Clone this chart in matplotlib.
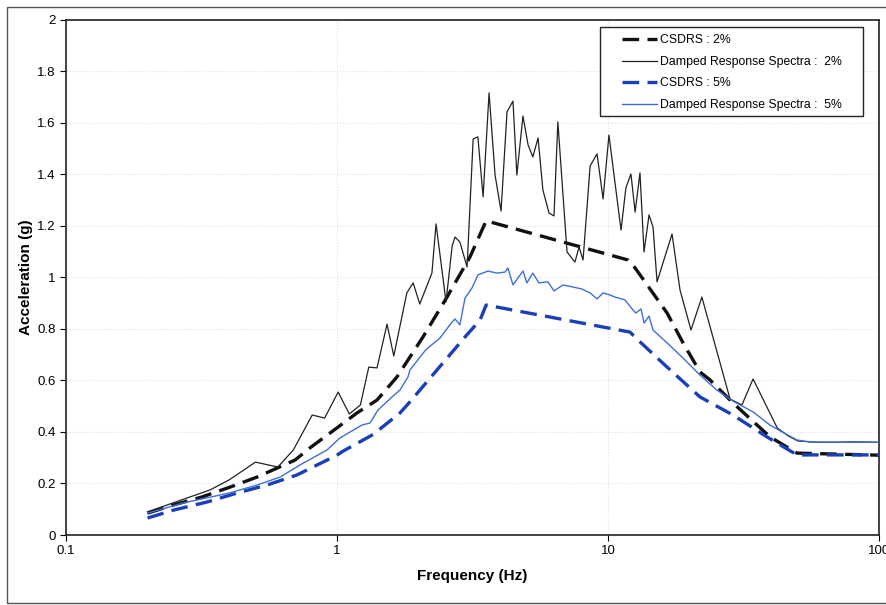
import matplotlib
matplotlib.use('Agg')
import matplotlib.pyplot as plt
from matplotlib.patches import Rectangle

plt.rcParams['font.family'] = ['Liberation Sans', 'DejaVu Sans']

# CSDRS 2% (design spectrum)
csdrs2_freq = [0.2, 0.25, 0.318, 0.403, 0.507, 0.70, 0.794, 1.0, 1.185, 1.405, 1.665, 1.858,
               2.076, 2.547, 3.096, 3.55, 11.85, 12.59, 16.52, 18.92, 21.85, 23.8, 28.9, 39.6, 49.8, 100]
csdrs2_acc = [0.085, 0.117, 0.148, 0.186, 0.225, 0.291, 0.338, 0.416, 0.474, 0.524, 0.614, 0.691,
              0.769, 0.924, 1.08, 1.22, 1.068, 1.037, 0.862, 0.746, 0.633, 0.602, 0.513, 0.381, 0.318, 0.31]

# CSDRS 5%
csdrs5_freq = [0.2, 0.25, 0.331, 0.428, 0.552, 0.711, 1.0, 1.05, 1.358, 1.708, 1.858, 2.967,
               3.373, 3.55, 12.05, 12.79, 16.52, 21.85, 28.9, 38.6, 49.8, 100]
csdrs5_acc = [0.066, 0.097, 0.128, 0.163, 0.194, 0.233, 0.31, 0.325, 0.39, 0.474, 0.517, 0.769,
              0.835, 0.893, 0.788, 0.761, 0.652, 0.536, 0.466, 0.381, 0.311, 0.311]

# Damped response spectra 2%
drs2_freq = [0.2, 0.34, 0.40, 0.50, 0.605, 0.69, 0.81, 0.90, 1.01, 1.11, 1.22, 1.31, 1.405, 1.53,
             1.62, 1.81, 1.91, 2.02, 2.24, 2.32, 2.525, 2.66, 2.725, 2.84, 3.02, 3.18, 3.31, 3.46,
             3.64, 3.83, 4.03, 4.24, 4.46, 4.61, 4.855, 5.07, 5.28, 5.52, 5.75, 6.06, 6.32, 6.53,
             7.06, 7.55, 7.82, 8.09, 8.59, 9.11, 9.59, 10.08, 11.17, 11.64, 12.15, 12.59, 13.12,
             13.58, 14.17, 14.66, 15.17, 17.23, 18.44, 20.24, 22.2, 28.2, 31.2, 34.3, 42.1, 46.2,
             50.2, 60, 70, 80, 100]
drs2_acc = [0.09, 0.175, 0.214, 0.283, 0.264, 0.33, 0.466, 0.454, 0.555, 0.47, 0.505, 0.652, 0.649,
            0.819, 0.695, 0.94, 0.979, 0.897, 1.017, 1.208, 0.905, 1.122, 1.157, 1.138, 1.041, 1.538,
            1.546, 1.313, 1.717, 1.398, 1.258, 1.643, 1.685, 1.398, 1.627, 1.515, 1.468, 1.542, 1.34,
            1.25, 1.239, 1.604, 1.099, 1.06, 1.118, 1.068, 1.433, 1.48, 1.305, 1.553, 1.184, 1.348,
            1.402, 1.254, 1.406, 1.099, 1.243, 1.196, 0.983, 1.169, 0.951, 0.796, 0.924, 0.528, 0.505,
            0.606, 0.416, 0.385, 0.365, 0.36, 0.36, 0.362, 0.36]

# Damped response spectra 5%
drs5_freq = [0.2, 0.27, 0.40, 0.507, 0.617, 0.73, 0.918, 1.026, 1.236, 1.324, 1.416, 1.596, 1.708,
             1.828, 1.858, 2.13, 2.4, 2.61, 2.725, 2.84, 2.967, 3.148, 3.313, 3.607, 3.893, 4.17,
             4.27, 4.46, 4.855, 5.02, 5.28, 5.56, 6.0, 6.32, 6.82, 7.43, 8.02, 8.59, 9.11, 9.59,
             10.17, 10.6, 11.55, 12.36, 12.68, 13.24, 13.58, 14.17, 14.66, 16.52, 18.92, 21.85,
             25.2, 28.9, 34.3, 39.6, 43.9, 49.8, 55.6, 100]
drs5_acc = [0.085, 0.124, 0.163, 0.194, 0.225, 0.272, 0.33, 0.377, 0.427, 0.435, 0.485, 0.536, 0.563,
            0.614, 0.641, 0.72, 0.765, 0.816, 0.839, 0.816, 0.92, 0.959, 1.01, 1.025, 1.017, 1.021,
            1.037, 0.971, 1.025, 0.979, 1.017, 0.979, 0.983, 0.948, 0.971, 0.963, 0.955, 0.94, 0.917,
            0.94, 0.932, 0.924, 0.913, 0.874, 0.862, 0.878, 0.823, 0.85, 0.796, 0.746, 0.687, 0.621,
            0.563, 0.52, 0.478, 0.427, 0.40, 0.369, 0.361, 0.36]

y_ticks = [0, 0.2, 0.4, 0.6, 0.8, 1, 1.2, 1.4, 1.6, 1.8, 2]
y_labels = ['0', '0.2', '0.4', '0.6', '0.8', '1', '1.2', '1.4', '1.6', '1.8', '2']
x_ticks = [0.1, 1, 10, 100]
x_labels = ['0.1', '1', '10', '100']

fig = plt.figure(figsize=(8.87, 6.05), dpi=100)
ax = fig.add_axes([0.0744, 0.1157, 0.9166, 0.8513])

# outer chart frame
fig.patches.append(Rectangle((0.008, 0.004), 1.1, 0.984, transform=fig.transFigure,
                             fill=False, edgecolor='#555555', linewidth=1.0))

ax.plot(csdrs2_freq, csdrs2_acc, color='#111111', linestyle=(0, (5, 2.5)), linewidth=2.4,
        label='CSDRS : 2%', zorder=3)
ax.plot(drs2_freq, drs2_acc, color='#222222', linewidth=0.9,
        label='Damped Response Spectra :  2%', zorder=4)
ax.plot(csdrs5_freq, csdrs5_acc, color='#1a3fb8', linestyle=(0, (5, 2.5)), linewidth=2.4,
        label='CSDRS : 5%', zorder=3)
ax.plot(drs5_freq, drs5_acc, color='#3f6fd6', linewidth=1.0,
        label='Damped Response Spectra :  5%', zorder=5)

ax.set_xscale('log')
ax.set_xlim(0.1, 100)
ax.set_ylim(0, 2)
ax.set_xticks(x_ticks)
ax.set_xticklabels(x_labels)
ax.set_yticks(y_ticks)
ax.set_yticklabels(y_labels)
ax.minorticks_off()
ax.tick_params(labelsize=9.5, length=4, direction='out')
for sp in ax.spines.values():
    sp.set_linewidth(1.2)
    sp.set_color('#222222')

ax.grid(True, which='major', color='#e0e0e0', linestyle=':', linewidth=0.8)
ax.set_axisbelow(True)

ax.set_xlabel('Frequency (Hz)', fontsize=11, fontweight='bold', labelpad=8)
ax.set_ylabel('Acceleration (g)', fontsize=11, fontweight='bold', labelpad=3)

# legend box drawn separately (wider side padding than matplotlib's borderpad allows)
ax.add_patch(Rectangle((0.657, 0.814), 0.323, 0.172, transform=ax.transAxes,
                       facecolor='white', edgecolor='#222222', linewidth=1.0, zorder=9))
leg = ax.legend(loc='upper left', bbox_to_anchor=(0.684, 0.972), borderaxespad=0,
                fontsize=8.8, handlelength=2.85, frameon=False, borderpad=0,
                labelspacing=0.78, handletextpad=0.25)
leg.set_zorder(10)

fig.savefig('out.png', dpi=100)
